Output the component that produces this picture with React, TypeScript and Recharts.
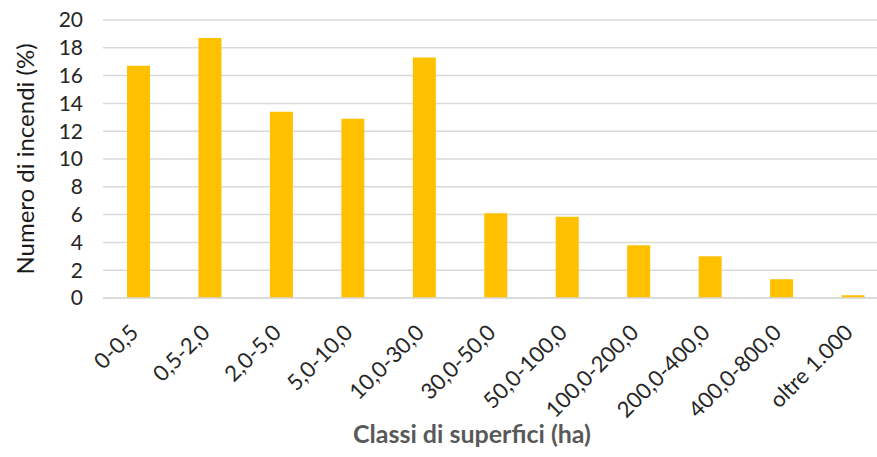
import { BarChart, Bar, XAxis, YAxis, CartesianGrid, Label } from "recharts";

// Classi di superficie percorsa e quota di incendi per classe
const classes = [
  "0-0,5",
  "0,5-2,0",
  "2,0-5,0",
  "5,0-10,0",
  "10,0-30,0",
  "30,0-50,0",
  "50,0-100,0",
  "100,0-200,0",
  "200,0-400,0",
  "400,0-800,0",
  "oltre 1.000",
];
const shares = [16.7, 18.7, 13.4, 12.9, 17.3, 6.1, 5.85, 3.8, 3.0, 1.35, 0.2];
const yTicks = [0, 2, 4, 6, 8, 10, 12, 14, 16, 18, 20];

const data = classes.map((name, i) => ({ name, value: shares[i] }));

const FONT = "Lato, 'Open Sans', sans-serif";

function SlantedTick({ x, y, payload }: any) {
  return (
    <g transform={`translate(${x + 1},${y + 28})`}>
      <text
        x={0}
        y={0}
        textAnchor="end"
        transform="rotate(-45)"
        fill="#262626"
        fontSize={22}
        fontFamily={FONT}
      >
        {payload.value}
      </text>
    </g>
  );
}

export default function App() {
  return (
    <div style={{ width: 877, height: 457, background: "#fff", overflow: "hidden" }}>
      <style>{"body{margin:0}"}</style>
      <BarChart
        width={877}
        height={457}
        data={data}
        margin={{ top: 20, right: -12, bottom: 0, left: 0 }}
        barCategoryGap={0}
      >
        <CartesianGrid vertical={false} stroke="#d9d9d9" strokeWidth={1.5} />
        <XAxis
          dataKey="name"
          height={159}
          interval={0}
          tickLine={false}
          axisLine={{ stroke: "#d9d9d9", strokeWidth: 1.5 }}
          tick={<SlantedTick />}
        >
          <Label
            value="Classi di superfici (ha)"
            position="insideBottom"
            offset={14}
            dx={-24}
            fill="#595959"
            fontSize={25}
            fontWeight="bold"
            fontFamily={FONT}
          />
        </XAxis>
        <YAxis
          width={103}
          domain={[0, 20]}
          ticks={yTicks}
          interval={0}
          tickLine={false}
          axisLine={false}
          tickMargin={14}
          tick={{ fill: "#262626", fontSize: 21, fontFamily: FONT }}
        >
          <Label
            value="Numero di incendi (%)"
            angle={-90}
            position="insideLeft"
            offset={25}
            textAnchor="middle"
            fill="#1a1a1a"
            fontSize={24}
            fontFamily={FONT}
          />
        </YAxis>
        <Bar
          dataKey="value"
          fill="#FFC000"
          barSize={23}
          isAnimationActive={false}
        />
      </BarChart>
    </div>
  );
}
